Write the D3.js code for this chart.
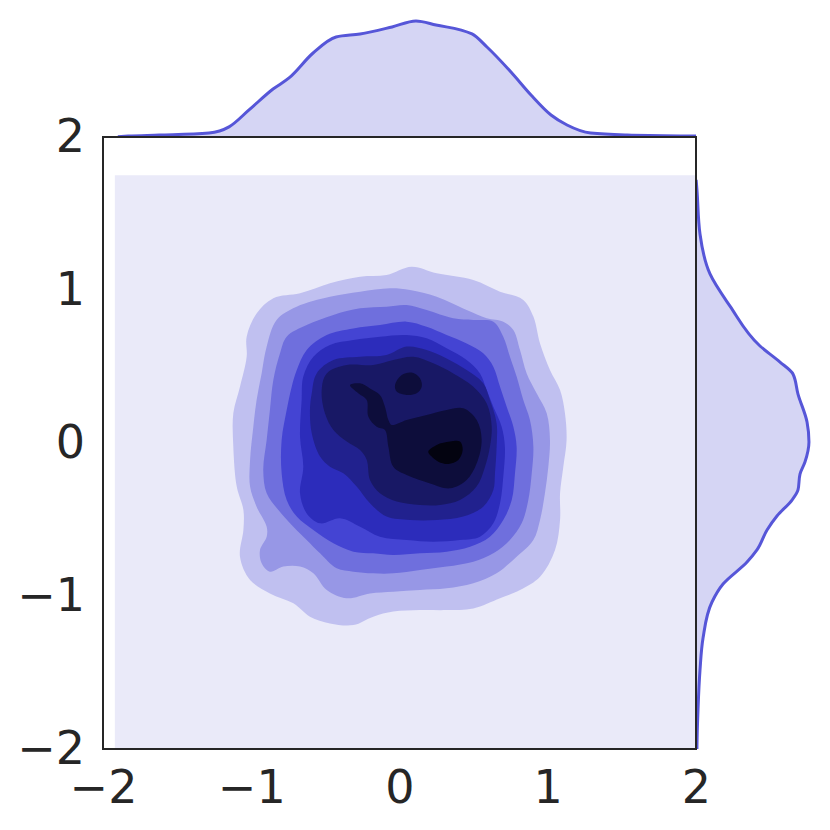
<!DOCTYPE html>
<html><head><meta charset="utf-8">
<script src="https://cdn.jsdelivr.net/npm/d3@7"></script>
<style>body{margin:0;background:#fff}svg{display:block}</style>
</head><body>
<script>
// ---- data ----
const ticks = [-2, -1, 0, 1, 2];
const tickLabels = ["\u22122", "\u22121", "0", "1", "2"];
// marginal KDE of x (top)
const topX = [-1.9, -1.83, -1.62, -1.285, -1.15, -1.015, -0.853, -0.745, -0.583, -0.428, -0.266, -0.05, 0.111, 0.246, 0.489, 0.59, 0.752, 0.887, 1.022, 1.13, 1.29, 1.535, 2.0, 2.1];
const topD = [0.002, 0.006, 0.012, 0.025, 0.063, 0.169, 0.30, 0.369, 0.525, 0.625, 0.644, 0.688, 0.725, 0.70, 0.644, 0.5625, 0.406, 0.2625, 0.1375, 0.075, 0.025, 0.0125, 0.006, 0.005];
// marginal KDE of y (right)
const rightY = [1.72, 1.654, 1.366, 1.105, 0.895, 0.634, 0.529, 0.451, 0.32, 0.137, 0.007, -0.124, -0.203, -0.307, -0.373, -0.477, -0.569, -0.699, -0.778, -0.922, -1.039, -1.275, -1.484, -1.745, -1.98, -2.1];
const rightD = [0.001, 0.006, 0.025, 0.0875, 0.2125, 0.40, 0.525, 0.606, 0.6375, 0.694, 0.706, 0.681, 0.65, 0.6375, 0.60, 0.506, 0.444, 0.381, 0.319, 0.169, 0.10, 0.044, 0.025, 0.0125, 0.006, 0.005];
// extent of the 2D KDE grid (lowest level)
const gridX = [-1.92, 2.1];
const gridY = [-2.1, 1.75];
// contour levels (x, y pairs), lowest to highest
const level1 = [[0.082,1.152],[0.251,1.109],[0.498,1.065],[0.678,0.989],[0.835,0.935],[0.903,0.826],[0.948,0.651],[1.015,0.477],[1.083,0.346],[1.116,0.194],[1.127,0.020],[1.105,-0.155],[1.083,-0.329],[1.083,-0.503],[1.049,-0.699],[0.948,-0.874],[0.813,-0.961],[0.678,-1.015],[0.498,-1.081],[0.318,-1.092],[0.138,-1.092],[-0.042,-1.102],[-0.177,-1.135],[-0.311,-1.190],[-0.469,-1.179],[-0.604,-1.135],[-0.716,-1.048],[-0.874,-0.983],[-1.008,-0.895],[-1.076,-0.743],[-1.053,-0.569],[-1.053,-0.438],[-1.098,-0.285],[-1.121,-0.024],[-1.121,0.194],[-1.076,0.368],[-1.031,0.564],[-1.031,0.695],[-0.964,0.847],[-0.851,0.946],[-0.671,0.978],[-0.469,1.044],[-0.266,1.087],[-0.087,1.098]];
const level2 = [[-0.829,0.804],[-0.694,0.891],[-0.469,0.956],[-0.266,0.989],[-0.064,1.011],[0.071,1.0],[0.251,0.956],[0.453,0.869],[0.588,0.815],[0.700,0.793],[0.768,0.739],[0.813,0.608],[0.858,0.455],[0.925,0.325],[0.993,0.194],[1.015,0.020],[1.004,-0.155],[0.981,-0.329],[0.948,-0.503],[0.903,-0.634],[0.790,-0.743],[0.655,-0.852],[0.498,-0.917],[0.318,-0.950],[0.138,-0.961],[-0.042,-0.972],[-0.199,-0.983],[-0.356,-1.015],[-0.491,-0.961],[-0.581,-0.852],[-0.671,-0.808],[-0.784,-0.808],[-0.874,-0.841],[-0.930,-0.786],[-0.941,-0.699],[-0.896,-0.612],[-0.896,-0.547],[-0.964,-0.416],[-1.008,-0.285],[-1.008,-0.111],[-0.986,0.107],[-0.964,0.281],[-0.930,0.455],[-0.896,0.630]];
const level3 = [[-0.761,0.695],[-0.626,0.771],[-0.446,0.837],[-0.266,0.880],[-0.087,0.891],[0.048,0.902],[0.183,0.869],[0.363,0.815],[0.498,0.804],[0.633,0.793],[0.700,0.695],[0.745,0.564],[0.790,0.434],[0.835,0.281],[0.880,0.150],[0.903,-0.024],[0.892,-0.198],[0.869,-0.373],[0.824,-0.525],[0.745,-0.634],[0.633,-0.721],[0.498,-0.776],[0.318,-0.808],[0.138,-0.830],[-0.042,-0.852],[-0.177,-0.852],[-0.311,-0.841],[-0.424,-0.819],[-0.536,-0.721],[-0.626,-0.634],[-0.716,-0.547],[-0.817,-0.438],[-0.896,-0.329],[-0.919,-0.176],[-0.896,0.020],[-0.874,0.216],[-0.851,0.412],[-0.806,0.586]];
const level4 = [[-0.693,0.477],[-0.626,0.608],[-0.491,0.706],[-0.311,0.749],[-0.132,0.771],[0.048,0.793],[0.183,0.760],[0.318,0.706],[0.453,0.651],[0.565,0.586],[0.633,0.499],[0.678,0.368],[0.723,0.237],[0.768,0.107],[0.790,-0.024],[0.779,-0.198],[0.757,-0.373],[0.700,-0.503],[0.610,-0.612],[0.476,-0.678],[0.318,-0.710],[0.138,-0.721],[-0.042,-0.732],[-0.177,-0.721],[-0.311,-0.710],[-0.446,-0.656],[-0.581,-0.569],[-0.693,-0.481],[-0.761,-0.373],[-0.795,-0.198],[-0.795,0.020],[-0.761,0.216],[-0.727,0.368]];
const level5 = [[-0.660,0.281],[-0.671,0.041],[-0.649,-0.155],[-0.671,-0.329],[-0.626,-0.460],[-0.536,-0.525],[-0.401,-0.492],[-0.266,-0.547],[-0.132,-0.612],[0.048,-0.634],[0.228,-0.645],[0.408,-0.634],[0.543,-0.612],[0.633,-0.525],[0.678,-0.394],[0.700,-0.220],[0.711,-0.024],[0.689,0.107],[0.633,0.237],[0.588,0.346],[0.543,0.455],[0.453,0.542],[0.318,0.619],[0.183,0.684],[0.048,0.706],[-0.132,0.695],[-0.311,0.673],[-0.469,0.641],[-0.581,0.564],[-0.649,0.434]];
const level6 = [[-0.604,0.216],[-0.592,0.325],[-0.559,0.455],[-0.446,0.542],[-0.266,0.564],[-0.087,0.575],[0.048,0.630],[0.183,0.608],[0.318,0.553],[0.453,0.477],[0.565,0.390],[0.610,0.281],[0.655,0.129],[0.655,-0.024],[0.644,-0.198],[0.633,-0.307],[0.565,-0.416],[0.430,-0.481],[0.251,-0.503],[0.071,-0.503],[-0.087,-0.481],[-0.199,-0.394],[-0.289,-0.285],[-0.379,-0.198],[-0.469,-0.155],[-0.536,-0.089],[-0.592,0.063]];
const level7 = [[-0.525,0.346],[-0.491,0.455],[-0.356,0.510],[-0.177,0.510],[-0.042,0.542],[0.093,0.564],[0.228,0.521],[0.363,0.455],[0.498,0.368],[0.588,0.259],[0.622,0.107],[0.610,-0.024],[0.577,-0.155],[0.520,-0.285],[0.408,-0.373],[0.273,-0.405],[0.138,-0.405],[-0.019,-0.383],[-0.132,-0.329],[-0.199,-0.242],[-0.221,-0.111],[-0.266,-0.046],[-0.356,0.009],[-0.446,0.085],[-0.503,0.194]];
const level8a = [[-0.334,0.379],[-0.266,0.390],[-0.199,0.357],[-0.132,0.314],[-0.098,0.237],[-0.075,0.150],[-0.053,0.118],[0.048,0.150],[0.183,0.183],[0.318,0.216],[0.431,0.227],[0.521,0.150],[0.554,0.020],[0.521,-0.133],[0.453,-0.242],[0.341,-0.296],[0.206,-0.264],[0.048,-0.209],[-0.042,-0.155],[-0.075,-0.024],[-0.098,0.085],[-0.154,0.107],[-0.210,0.172],[-0.221,0.281],[-0.278,0.325]];
const level8b = [[-0.030,0.379],[0.015,0.444],[0.082,0.460],[0.138,0.423],[0.150,0.368],[0.116,0.325],[0.048,0.314],[-0.019,0.336]];
const level9 = [[0.194,-0.057],[0.251,-0.013],[0.341,0.009],[0.408,0.009],[0.426,-0.046],[0.397,-0.111],[0.329,-0.137],[0.262,-0.122],[0.217,-0.089]];
const levels = [[level1],[level2],[level3],[level4],[level5],[level6],[level7],[level8a, level8b],[level9]];
const levelColors = ["#eaeaf9","#c0c0f0","#9797e6","#6f6fdd","#4444d3","#2c2cbb","#21218e","#181865","#0d0d3b","#030310"];

// ---- layout ----
const W = 830, H = 830;
const L = 103, R = 696, T = 137, B = 749;
const svg = d3.select("body").append("svg").attr("width", W).attr("height", H)
  .style("font-family", "'DejaVu Sans', sans-serif");

const x = d3.scaleLinear().domain([-2, 2]).range([L, R]);
const y = d3.scaleLinear().domain([-2, 2]).range([B, T]);
const dTop = d3.scaleLinear().domain([0, 0.8]).range([T, T - 128]);
const dRight = d3.scaleLinear().domain([0, 0.8]).range([R, R + 128]);

const defs = svg.append("defs");
defs.append("clipPath").attr("id", "clipMain").append("rect")
  .attr("x", L).attr("y", T).attr("width", R - L).attr("height", B - T);
defs.append("clipPath").attr("id", "clipTop").append("rect")
  .attr("x", L).attr("y", 0).attr("width", R - L).attr("height", T);
defs.append("clipPath").attr("id", "clipRight").append("rect")
  .attr("x", R).attr("y", T).attr("width", W - R).attr("height", B - T);

// main contours
const gMain = svg.append("g").attr("clip-path", "url(#clipMain)");
gMain.append("rect")
  .attr("x", x(gridX[0])).attr("y", y(gridY[1]))
  .attr("width", x(gridX[1]) - x(gridX[0])).attr("height", y(gridY[0]) - y(gridY[1]))
  .attr("fill", levelColors[0]);
const contourLine = d3.line().x(d => x(d[0])).y(d => y(d[1])).curve(d3.curveCatmullRomClosed.alpha(0.5));
levels.forEach((polys, i) => {
  polys.forEach(p => {
    gMain.append("path").attr("d", contourLine(p)).attr("fill", levelColors[i + 1]).attr("stroke", "none");
  });
});

// top marginal
const topData = topX.map((v, i) => [v, topD[i]]);
const gTop = svg.append("g").attr("clip-path", "url(#clipTop)");
gTop.append("path").datum(topData)
  .attr("d", d3.area().x(d => x(d[0])).y0(dTop(0)).y1(d => dTop(d[1])).curve(d3.curveMonotoneX))
  .attr("fill", "#d5d5f4");
gTop.append("path").datum(topData)
  .attr("d", d3.line().x(d => x(d[0])).y(d => dTop(d[1])).curve(d3.curveMonotoneX))
  .attr("fill", "none").attr("stroke", "#5656d8").attr("stroke-width", 3);

// right marginal
const rightData = rightY.map((v, i) => [v, rightD[i]]);
const gRight = svg.append("g").attr("clip-path", "url(#clipRight)");
gRight.append("path").datum(rightData)
  .attr("d", d3.area().y(d => y(d[0])).x0(dRight(0)).x1(d => dRight(d[1])).curve(d3.curveMonotoneY))
  .attr("fill", "#d5d5f4");
gRight.append("path").datum(rightData)
  .attr("d", d3.line().y(d => y(d[0])).x(d => dRight(d[1])).curve(d3.curveMonotoneY))
  .attr("fill", "none").attr("stroke", "#5656d8").attr("stroke-width", 3);

// frame
svg.append("rect").attr("x", L).attr("y", T).attr("width", R - L).attr("height", B - T)
  .attr("fill", "none").attr("stroke", "#262626").attr("stroke-width", 2);

// axes
const fmt = d => tickLabels[ticks.indexOf(d)];
const xAxis = svg.append("g").attr("transform", `translate(0,${B})`)
  .call(d3.axisBottom(x).tickValues(ticks).tickFormat(fmt).tickSize(0).tickPadding(21));
const yAxis = svg.append("g").attr("transform", `translate(${L},0)`)
  .call(d3.axisLeft(y).tickValues(ticks).tickFormat(fmt).tickSize(0).tickPadding(18));
[xAxis, yAxis].forEach(g => {
  g.select(".domain").remove();
  g.selectAll("text").attr("fill", "#262626").style("font-size", "46px")
    .style("font-family", "'DejaVu Sans', sans-serif");
});
</script>
</body></html>
